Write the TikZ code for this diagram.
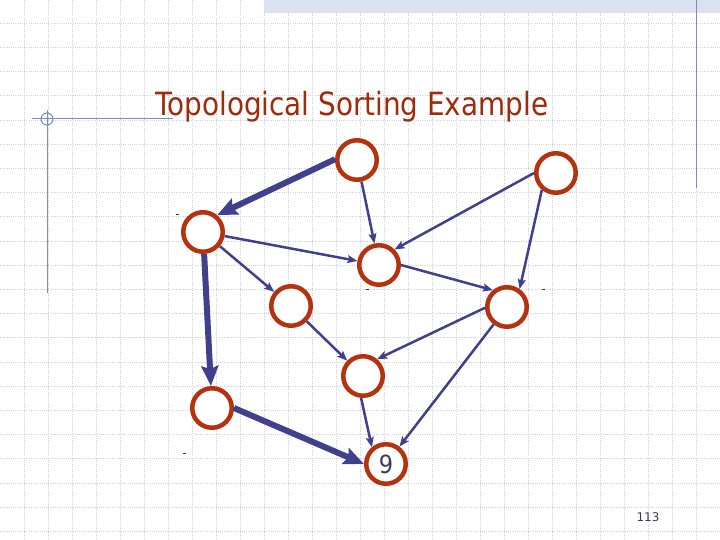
\documentclass[tikz,border=0pt]{standalone}
\usepackage{fontspec}
\setmainfont{DejaVu Sans}
\usetikzlibrary{arrows.meta}
\definecolor{nodered}{RGB}{180,50,14}
\definecolor{titlered}{RGB}{160,42,12}
\definecolor{edgeblue}{RGB}{64,64,140}
\definecolor{decoblue}{RGB}{125,140,190}
\definecolor{bandblue}{RGB}{218,226,242}
\definecolor{gridgray}{RGB}{208,208,214}
\definecolor{numgray}{RGB}{60,60,95}
\tikzset{
  vert/.style={circle, draw=nodered, line width=4.5pt, fill=white, minimum size=39.5pt, inner sep=0pt},
  thin edge/.style={draw=edgeblue, line width=2.5pt, -{Stealth[length=10pt,width=8pt,inset=2pt]}},
  thick edge/.style={draw=edgeblue, line width=6pt, -{Stealth[length=20pt,width=17pt,inset=3pt]}},
  gridline/.style={draw=gridgray, line width=0.7pt, dash pattern=on 1pt off 1.2pt},
  deco/.style={draw=decoblue, line width=1pt},
  tick/.style={draw=black!80, line width=0.9pt}
}
\begin{document}
\begin{tikzpicture}[x=1pt,y=-1pt]
\useasboundingbox (0,0) rectangle (720,540);
\fill[white] (0,0) rectangle (720,540);
% grid
\foreach \i in {1,...,29} {\draw[gridline] (24*\i,0) -- (24*\i,540);}
\foreach \j in {1,...,22} {\draw[gridline] (0,24.2*\j-1) -- (720,24.2*\j-1);}
% top band
\fill[bandblue] (264,0) rectangle (720,13);
% decorations
\draw[deco] (696,0) -- (696,188);
\draw[deco] (32,119) -- (173,119);
\draw[deco] (47,110) -- (47,293);
\draw[deco] (47,119) circle (6);
% title
\node[anchor=base west, inner sep=0pt, text=titlered] (title) at (155,116)
  {\scalebox{0.87}[1]{\fontsize{32}{38}\selectfont Topological Sorting Example}};
% nodes
\node[vert] (A) at (357,160) {};
\node[vert] (B) at (556,173) {};
\node[vert] (C) at (203,232) {};
\node[vert] (D) at (379,265) {};
\node[vert] (E) at (291,306) {};
\node[vert] (F) at (507,307) {};
\node[vert] (G) at (363,376) {};
\node[vert] (H) at (212,408) {};
\node[vert, text=numgray] (I) at (386,464) {\scalebox{0.9}[1]{\fontsize{25}{30}\selectfont 9}};
% edges
\draw[thick edge] (A.178) -- (C.50);
\draw[thick edge] (C) -- (H);
\draw[thick edge] (H.east) -- (I.west);
\draw[thin edge] (A) -- (D);
\draw[thin edge] (C) -- (D);
\draw[thin edge] (C) -- (E);
\draw[thin edge] (B.west) -- (D.45);
\draw[thin edge] (B.230) -- (F.55);
\draw[thin edge] (D.east) -- (F.130);
\draw[thin edge] (E) -- (G);
\draw[thin edge] (F.182) -- (G.50);
\draw[thin edge] (F) -- (I);
\draw[thin edge] (G.265) -- (I.130);
% tiny marks
\draw[tick] (175.5,214) -- (178.5,214);
\draw[tick] (182.5,453) -- (185.5,453);
\draw[tick] (365.5,289) -- (368.5,289);
\draw[tick] (541.5,289) -- (544.5,289);
% page number
\node[text=numgray, inner sep=0pt] (pg) at (648,517) {\fontsize{12}{14}\selectfont 113};
\end{tikzpicture}
\end{document}
